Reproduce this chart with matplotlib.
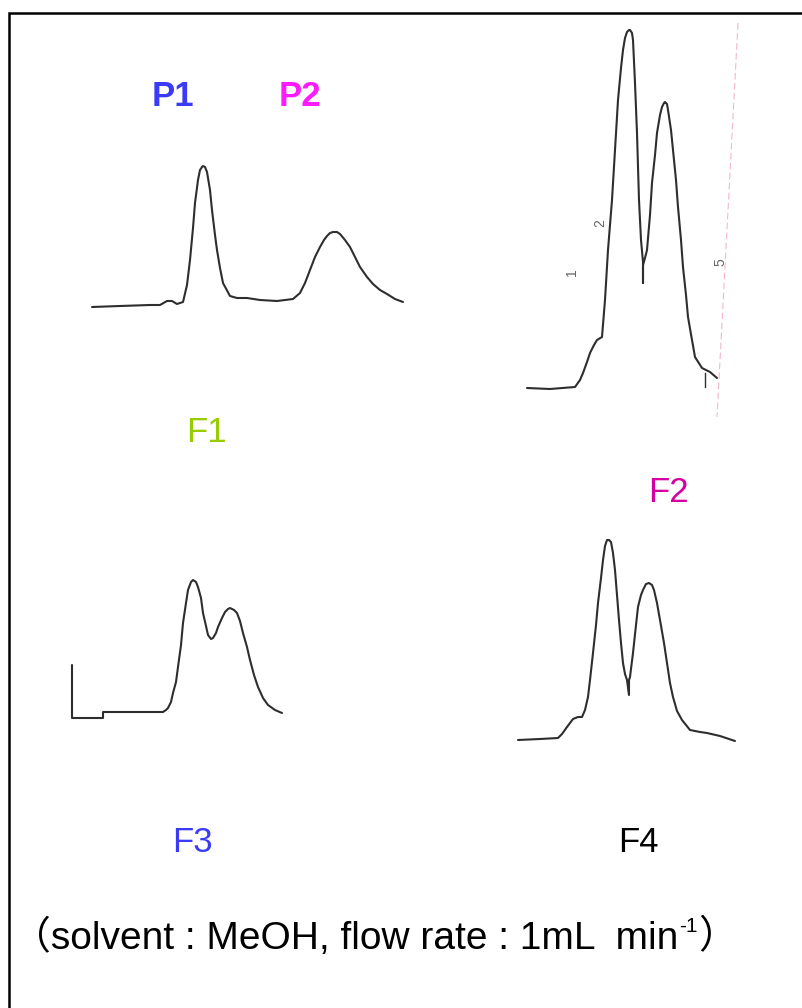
import matplotlib
matplotlib.use("Agg")
import matplotlib.pyplot as plt

# traces (picture pixel coordinates)
p_x = [92, 120, 150, 160, 167, 172, 177, 183, 187, 190, 193, 195, 198, 200, 202, 203, 205, 207, 210, 212, 215, 217,
       220, 223, 230, 237, 247, 260, 277, 293, 300, 305, 310, 315, 320, 324, 327, 330, 333, 337, 340, 345, 350, 355,
       360, 367, 373, 380, 387, 395, 403]
p_y = [307, 306, 305, 305, 301, 301, 304, 302, 285, 260, 228, 203, 180, 170, 167, 166, 167, 172, 190, 210, 235, 250,
       268, 283, 296, 298, 298, 300, 301, 299, 293, 283, 270, 257, 247, 240, 236, 233, 232, 232, 234, 240, 247, 257,
       267, 277, 284, 290, 294, 299, 302]

f2_x = [527, 550, 575, 580, 583, 587, 590, 594, 597, 602, 605, 608, 612, 615, 618, 621, 623, 625, 627, 629, 630, 632,
        633, 635, 637, 639, 641, 643, 643, 643, 645, 647, 650, 652, 655, 657, 660, 662, 664, 665, 667, 668, 671, 673,
        676, 678, 681, 683, 686, 688, 692, 695, 702, 710, 717]
f2_y = [388, 389, 387, 380, 373, 362, 353, 345, 340, 337, 300, 250, 200, 150, 100, 68, 50, 38, 32, 30, 30, 33, 40, 83,
        133, 200, 240, 262, 283, 265, 258, 250, 215, 183, 155, 133, 115, 107, 103, 102, 104, 110, 130, 150, 180, 207,
        240, 267, 295, 317, 340, 357, 368, 372, 378]

f3_x = [72, 72, 103, 103, 130, 163, 166, 168, 171, 173, 176, 178, 181, 183, 186, 188, 191, 193, 196, 198, 201, 203, 206,
        208, 211, 213, 216, 218, 222, 225, 228, 230, 234, 237, 240, 243, 247, 250, 254, 258, 263, 268, 275, 282]
f3_y = [665, 718, 718, 712, 712, 712, 710, 708, 702, 693, 682, 667, 645, 623, 603, 590, 582, 580, 582, 587, 598, 613,
        626, 635, 639, 638, 633, 627, 618, 612, 609, 608, 610, 613, 621, 633, 647, 660, 675, 687, 698, 705, 710, 713]

f4_x = [518, 540, 558, 562, 567, 573, 578, 582, 585, 588, 590, 593, 596, 598, 601, 603, 605, 607, 609, 611, 613, 615,
        617, 619, 621, 623, 625, 627, 629, 629, 630, 633, 636, 638, 641, 643, 646, 649, 652, 654, 657, 660, 664, 667,
        670, 673, 677, 682, 690, 700, 707, 720, 735]
f4_y = [740, 739, 738, 734, 727, 719, 717, 717, 710, 697, 680, 653, 625, 603, 578, 560, 546, 540, 540, 542, 553, 570,
        595, 620, 643, 663, 674, 680, 695, 680, 677, 653, 625, 607, 595, 590, 584, 583, 585, 590, 603, 620, 643, 663,
        683, 697, 711, 720, 730, 732, 733, 736, 741]

labels = ["P1", "P2", "F1", "F2", "F3", "F4"]
label_x = [173, 300, 206, 668, 192, 638]
label_y = [97, 97, 433, 493, 843, 843]
label_colors = ["#3b3bf5", "#ff1aff", "#99cc00", "#d4009f", "#3b3bf5", "#000000"]
label_weight = ["bold", "bold", "normal", "normal", "normal", "normal"]

marks = ["1", "2", "5"]
mark_x = [572, 600, 720]
mark_y = [272, 223, 262]

caption = "（solvent : MeOH, flow rate : 1mL  min"
caption_sup = "-1"

ink = "#2e2e2e"

fig = plt.figure(figsize=(8.03, 10.08), dpi=100)
ax = fig.add_axes([0, 0, 1, 1])
ax.set_xlim(0, 803)
ax.set_ylim(1008, 0)
ax.axis("off")

# frame (left and top edges only are visible)
ax.plot([9, 9, 803], [1008, 13, 13], color="black", lw=1.8, solid_joinstyle="miter")

for xs, ys in [(p_x, p_y), (f2_x, f2_y), (f3_x, f3_y), (f4_x, f4_y)]:
    ax.plot(xs, ys, color=ink, lw=1.5, solid_joinstyle="round", solid_capstyle="round")

# recorder artefacts on the top-right trace
ax.plot([738, 717], [23, 417], color="#f2b8c8", lw=0.8, ls=(0, (6, 3)))
ax.plot([705, 705], [373, 387], color=ink, lw=1.0)
for t, x, y in zip(marks, mark_x, mark_y):
    ax.text(x, y, t, fontsize=10, color="#666666", rotation=90, ha="center", va="center",
            family="Liberation Sans")

for t, x, y, c, w in zip(labels, label_x, label_y, label_colors, label_weight):
    ax.text(x, y, t, fontsize=25, color=c, weight=w, ha="center", va="center",
            family="Liberation Sans")

# caption with superscript, built from pieces
fams = ["Liberation Sans", "Noto Sans CJK SC"]
fig.canvas.draw()
r = fig.canvas.get_renderer()
inv = ax.transData.inverted()
t1 = ax.text(12, 938, caption, fontsize=28, family=fams, ha="left", va="center")
x1 = inv.transform((t1.get_window_extent(r).x1, 0))[0]
t2 = ax.text(x1 + 1, 926, caption_sup, fontsize=15, family=fams, ha="left", va="center")
x2 = inv.transform((t2.get_window_extent(r).x1, 0))[0]
ax.text(x2, 938, "）", fontsize=28, family=fams, ha="left", va="center")

fig.savefig("out.png", dpi=100)
